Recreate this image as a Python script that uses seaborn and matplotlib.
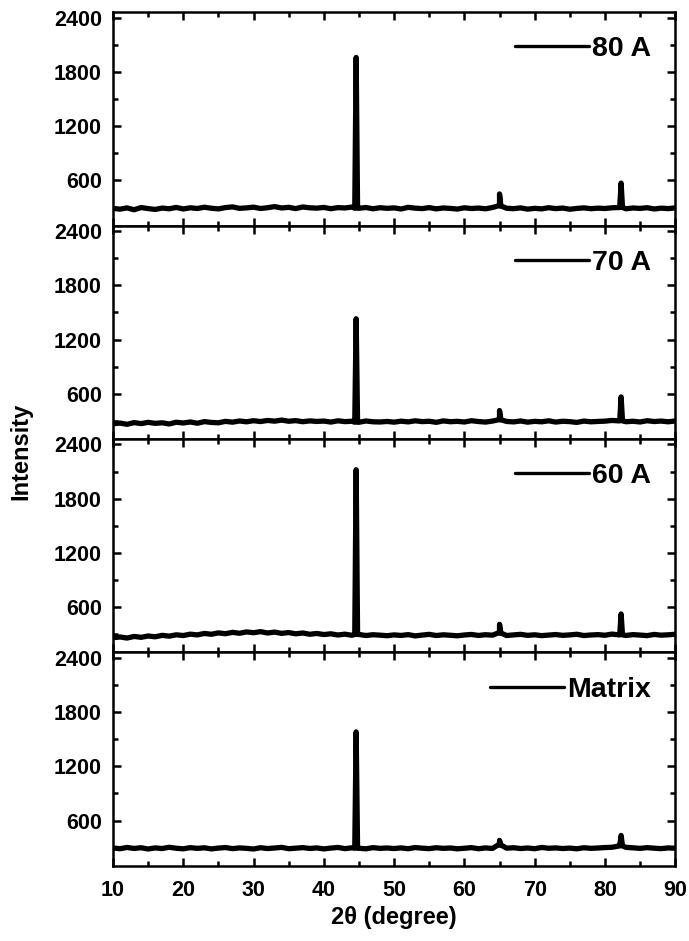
import numpy as np
import pandas as pd
import matplotlib
matplotlib.use("Agg")
import matplotlib.pyplot as plt
import seaborn as sns
from matplotlib.ticker import MultipleLocator

# 2-theta grid of the baseline readings (degrees)
theta = list(range(10, 91))

labels = ["80 A", "70 A", "60 A", "Matrix"]

base_80 = [290, 282, 296, 275, 300, 288, 279, 294, 286, 301,
           284, 297, 289, 303, 292, 285, 299, 307, 291, 296,
           304, 289, 298, 310, 295, 302, 288, 306, 297, 293,
           301, 287, 299, 295, 305, 292, 300, 286, 298, 291,
           296, 284, 302, 293, 288, 299, 285, 295, 290, 283,
           297, 289, 294, 286, 300, 318, 292, 287, 296, 282,
           291, 285, 298, 288, 294, 281, 290, 296, 287, 293,
           289, 297, 300, 286, 295, 290, 298, 284, 293, 288, 296]

base_70 = [268, 276, 262, 281, 270, 284, 273, 279, 266, 285,
           277, 288, 274, 292, 283, 279, 295, 286, 299, 290,
           302, 293, 305, 297, 309, 296, 303, 291, 300, 294,
           298, 287, 301, 292, 296, 285, 299, 290, 288, 294,
           286, 297, 289, 301, 292, 296, 284, 300, 291, 295,
           288, 302, 293, 287, 298, 312, 294, 289, 299, 286,
           295, 290, 301, 287, 296, 292, 283, 298, 290, 294,
           297, 305, 300, 291, 296, 288, 302, 293, 298, 290, 299]

base_60 = [262, 270, 258, 276, 266, 281, 272, 288, 279, 294,
           286, 301, 293, 309, 300, 315, 306, 321, 311, 326,
           317, 329, 314, 324, 310, 319, 305, 314, 300, 309,
           297, 305, 292, 301, 289, 298, 286, 295, 290, 284,
           293, 287, 296, 282, 291, 299, 286, 294, 289, 283,
           292, 298, 287, 295, 290, 314, 286, 293, 299, 288,
           294, 285, 291, 297, 288, 293, 300, 286, 292, 296,
           289, 302, 293, 287, 296, 291, 285, 298, 290, 294, 300]

base_mx = [296, 288, 302, 291, 299, 285, 297, 290, 304, 293,
           287, 300, 292, 298, 286, 295, 301, 289, 297, 292,
           285, 299, 290, 296, 303, 288, 294, 300, 291, 297,
           286, 295, 302, 289, 298, 293, 287, 300, 292, 296,
           290, 297, 288, 301, 294, 289, 299, 292, 296, 287,
           293, 300, 288, 297, 291, 330, 294, 299, 290, 296,
           288, 302, 293, 297, 290, 295, 287, 299, 292, 296,
           301, 304, 318, 303, 298, 292, 300, 294, 289, 297, 293]

# peak positions (2-theta) and apex intensities per sample
peak_pos = [44.6, 65.0, 82.3]
peaks_80 = [1960, 450, 570]
peaks_70 = [1430, 415, 565]
peaks_60 = [2120, 410, 525]
peaks_mx = [1580, 380, 435]

bases = [base_80, base_70, base_60, base_mx]
peaks = [peaks_80, peaks_70, peaks_60, peaks_mx]


def build_frame(base, heights):
    xs = list(theta)
    ys = list(base)
    for pos, h in zip(peak_pos, heights):
        near = base[int(round(pos)) - theta[0]]
        xs += [pos - 0.2, pos, pos + 0.2]
        ys += [near, h, near]
    df = pd.DataFrame({"theta": xs, "intensity": ys})
    return df.sort_values("theta")


sns.set_style("ticks")
plt.rcParams["font.family"] = ["Liberation Sans", "DejaVu Sans"]
plt.rcParams["font.weight"] = "bold"
plt.rcParams["text.color"] = "black"

fig, axes = plt.subplots(4, 1, figsize=(6.89, 9.41), dpi=100, sharex=True)
fig.subplots_adjust(left=0.164, right=0.980, top=0.987, bottom=0.080, hspace=0)

for ax, label, base, heights in zip(axes, labels, bases, peaks):
    df = build_frame(base, heights)
    sns.lineplot(data=df, x="theta", y="intensity", ax=ax, color="black",
                 linewidth=3.8, estimator=None, sort=True, label=label)

    ax.set_xlim(10, 90)
    ax.set_ylim(100, 2460)
    ax.set_yticks([600, 1200, 1800, 2400])
    ax.yaxis.set_minor_locator(MultipleLocator(300))
    ax.xaxis.set_major_locator(MultipleLocator(10))
    ax.xaxis.set_minor_locator(MultipleLocator(5))
    ax.tick_params(which="both", direction="in", top=True, right=True,
                   width=1.8, labelsize=15.5, colors="black")
    ax.tick_params(which="major", length=6)
    ax.tick_params(which="minor", length=3.5)
    ax.tick_params(axis="x", pad=10)
    ax.tick_params(axis="y", pad=8)
    for spine in ax.spines.values():
        spine.set_linewidth(1.8)
        spine.set_color("black")
        spine.set_visible(True)
    ax.set_xlabel("")
    ax.set_ylabel("")
    for t in ax.get_yticklabels() + ax.get_xticklabels():
        t.set_fontweight("bold")

    leg = ax.legend(loc="upper right", frameon=False, handlelength=2.6,
                    handletextpad=0.1, borderaxespad=0.45,
                    prop={"size": 20.5, "weight": "bold"})
    for line in leg.get_lines():
        line.set_linewidth(2.4)

axes[-1].set_xlabel("2θ (degree)", fontsize=17, fontweight="bold",
                    color="black", labelpad=4)
fig.text(0.030, 0.52, "Intensity", rotation=90, va="center", ha="center",
         fontsize=17, fontweight="bold")

fig.savefig("out.png", dpi=100)
